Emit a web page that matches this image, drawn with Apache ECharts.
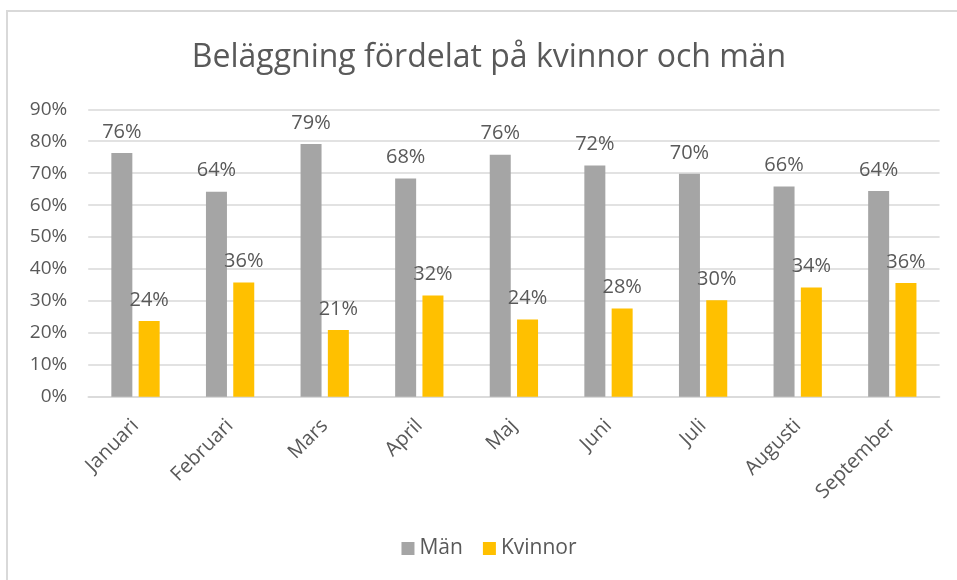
<!DOCTYPE html>
<html>
	<head>
		<meta charset="utf-8">
		<title></title>
		<script src="https://cdn.jsdelivr.net/npm/echarts@6/dist/echarts.min.js"></script>
		<style>
			body {
				margin: 0;
				background: #ffffff;
				overflow: hidden;
			}
			#main {
				position: absolute;
				left: 6px;
				top: 10px;
				width: 962px;
				height: 600px;
				border: 2px solid #d9d9d9;
			}
		</style>
	</head>
	<body>
		<div id="main"></div>
	</body>
	<script>
		var months = ["Januari", "Februari", "Mars", "April", "Maj", "Juni", "Juli", "Augusti", "September"];
		var man = [0.763, 0.642, 0.791, 0.683, 0.758, 0.724, 0.698, 0.658, 0.644];
		var kvinnor = [0.237, 0.358, 0.209, 0.317, 0.242, 0.276, 0.302, 0.342, 0.356];
		var yTicks = [0, 0.1, 0.2, 0.3, 0.4, 0.5, 0.6, 0.7, 0.8, 0.9];

		var textColor = "#595959";
		var font = "Open Sans";

		function pct(v) {
			return Math.round(v * 100) + "%";
		}

		var labelStyle = {
			show: true,
			position: "top",
			distance: 11,
			color: textColor,
			fontFamily: font,
			fontSize: 20,
			formatter: function (p) { return pct(p.value); }
		};

		var option = {
			animation: false,
			title: {
				text: "Beläggning fördelat på kvinnor och män",
				left: "center",
				top: 25,
				textStyle: {
					color: textColor,
					fontFamily: font,
					fontWeight: "normal",
					fontSize: 32
				}
			},
			legend: {
				bottom: 48,
				left: "center",
				itemWidth: 13,
				itemHeight: 13,
				itemGap: 20,
				icon: "rect",
				textStyle: {
					color: textColor,
					fontFamily: font,
					fontSize: 21
				},
				data: ["Män", "Kvinnor"]
			},
			grid: {
				left: 80.2,
				top: 97.3,
				width: 851.4,
				height: 287.4
			},
			xAxis: {
				type: "category",
				data: months,
				axisTick: { show: false },
				axisLine: { lineStyle: { color: "#d9d9d9", width: 1.5 } },
				axisLabel: {
					rotate: 45,
					margin: 26,
					color: textColor,
					fontFamily: font,
					fontSize: 20
				}
			},
			yAxis: {
				type: "value",
				min: 0,
				max: 0.9,
				interval: 0.1,
				axisLine: { show: false },
				axisTick: { show: false },
				splitLine: { lineStyle: { color: "#d9d9d9", width: 1.5 } },
				axisLabel: {
					margin: 21,
					color: textColor,
					fontFamily: font,
					fontSize: 19,
					formatter: function (v) {
						var t = yTicks.find(function (x) { return Math.abs(x - v) < 1e-6; });
						return pct(t === undefined ? v : t);
					}
				}
			},
			series: [{
				name: "Män",
				type: "bar",
				barWidth: 21,
				barGap: "30%",
				itemStyle: { color: "#a5a5a5" },
				label: labelStyle,
				data: man
			}, {
				name: "Kvinnor",
				type: "bar",
				barWidth: 21,
				itemStyle: { color: "#ffc000" },
				label: labelStyle,
				data: kvinnor
			}]
		};

		var chart = echarts.init(document.getElementById("main"));
		chart.setOption(option);
	</script>
</html>
